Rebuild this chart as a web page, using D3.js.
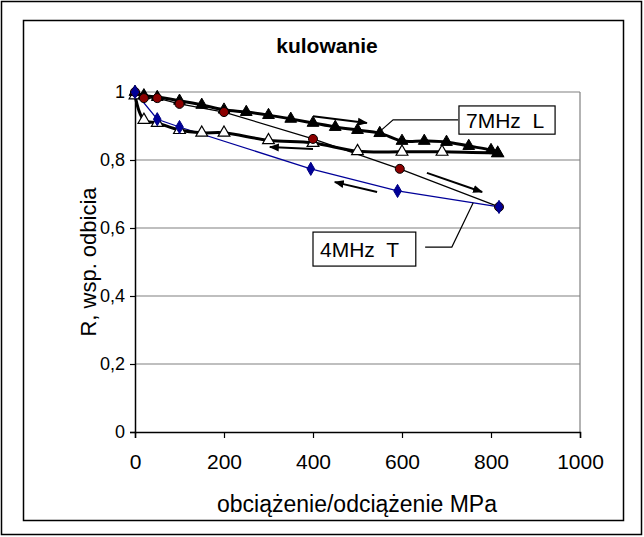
<!DOCTYPE html>
<html><head><meta charset="utf-8">
<script src="https://cdn.jsdelivr.net/npm/d3@7"></script>
<style>body{margin:0;background:#fff}svg{display:block}text{font-family:"Liberation Sans",Arial,sans-serif}</style>
</head><body><svg id="c" width="644" height="537"></svg>
<script>
// ---- data ----
const xTicks = [0,200,400,600,800,1000];
const yTicks = [0,0.2,0.4,0.6,0.8,1];
const yTickLabels = ["0","0,2","0,4","0,6","0,8","1"];

const loadL_x = [0,20,50,100,150,200,250,300,350,400,450,500,550,600,650,700,750,800,815];
const loadL_y = [1.0,0.99,0.985,0.974,0.962,0.948,0.941,0.932,0.921,0.909,0.897,0.888,0.879,0.856,0.856,0.853,0.841,0.829,0.82];
const unloadL_x = [815,690,600,500,400,300,200,150,100,50,20,0];
const unloadL_y = [0.82,0.824,0.824,0.826,0.85,0.858,0.88,0.88,0.888,0.909,0.918,0.99];
const loadT_x = [0,20,50,100,200,400,595,818];
const loadT_y = [1.0,0.982,0.982,0.965,0.941,0.862,0.774,0.662];
const unloadT_x = [818,590,395,100,50,0];
const unloadT_y = [0.662,0.709,0.774,0.897,0.92,1.0];

const titleText = "kulowanie";
const xTitle = "obciążenie/odciążenie MPa";
const yTitle = "R, wsp. odbicia";
const labelL = "7MHz  L";
const labelT = "4MHz  T";

// ---- layout ----
const svg = d3.select("#c");
const X0 = 135, X1 = 580, Y0 = 432, Y1 = 92;
const x = d3.scaleLinear().domain([0,1000]).range([X0,X1]);
const y = d3.scaleLinear().domain([0,1]).range([Y0,Y1]);
const zip = (a,b)=>a.map((v,i)=>[v,b[i]]);

svg.append("rect").attr("x",1.5).attr("y",1.5).attr("width",640).attr("height",533)
  .attr("fill","#fff").attr("stroke","#000").attr("stroke-width",1.5);
svg.append("rect").attr("x",23.5).attr("y",20.5).attr("width",600).attr("height",500)
  .attr("fill","#fff").attr("stroke","#000").attr("stroke-width",1.5);

// grid
svg.append("g").selectAll("line").data(yTicks.filter(d=>d>0)).join("line")
  .attr("x1",X0).attr("x2",X1).attr("y1",d=>y(d)).attr("y2",d=>y(d))
  .attr("stroke","#808080").attr("stroke-width",1.2);
svg.append("line").attr("x1",X1).attr("x2",X1).attr("y1",Y1).attr("y2",Y0)
  .attr("stroke","#808080").attr("stroke-width",1.2);

// axes
const gx = svg.append("g").attr("transform",`translate(0,${Y0})`)
  .call(d3.axisBottom(x).tickValues(xTicks).tickSize(6).tickPadding(16).tickFormat(d3.format("d")));
const gy = svg.append("g").attr("transform",`translate(${X0},0)`)
  .call(d3.axisLeft(y).tickValues(yTicks).tickSize(5).tickPadding(5).tickFormat((d,i)=>yTickLabels[i]));
[gx,gy].forEach(g=>{
  g.select(".domain").attr("stroke","#000").attr("stroke-width",1.5);
  g.selectAll(".tick line").attr("stroke","#000").attr("stroke-width",1.2);
  g.selectAll(".tick text").attr("fill","#000").attr("font-family","Liberation Sans, Arial, sans-serif");
});
gx.selectAll(".tick text").attr("font-size",21);
gy.selectAll(".tick text").attr("font-size",18);

// titles
svg.append("text").attr("x",327).attr("y",53).attr("text-anchor","middle")
  .attr("font-size",21).attr("font-weight","bold").text(titleText);
svg.append("text").attr("x",357).attr("y",512).attr("text-anchor","middle")
  .attr("font-size",23).text(xTitle);
svg.append("text").attr("transform",`translate(96,${(Y0+Y1)/2}) rotate(-90)`).attr("text-anchor","middle")
  .attr("font-size",22).text(yTitle);

// lines
const smooth = d3.line().x(d=>x(d[0])).y(d=>y(d[1])).curve(d3.curveCatmullRom.alpha(0.5));
const straight = d3.line().x(d=>x(d[0])).y(d=>y(d[1]));
const L1 = zip(loadL_x,loadL_y), L2 = zip(unloadL_x,unloadL_y);
const T1 = zip(loadT_x,loadT_y), T2 = zip(unloadT_x,unloadT_y);

svg.append("path").attr("d",straight(T1)).attr("fill","none").attr("stroke","#000").attr("stroke-width",1.2);
svg.append("path").attr("d",straight(T2)).attr("fill","none").attr("stroke","#000099").attr("stroke-width",1.2);
svg.append("path").attr("d",smooth(L2)).attr("fill","none").attr("stroke","#000").attr("stroke-width",3);
svg.append("path").attr("d",smooth(L1)).attr("fill","none").attr("stroke","#000").attr("stroke-width",3);

// markers
const tri = d3.symbol().type(d3.symbolTriangle).size(60);
svg.append("g").selectAll("path").data(L2).join("path")
  .attr("transform",d=>`translate(${x(d[0])},${y(d[1])})`).attr("d",tri())
  .attr("fill","#fff").attr("stroke","#000").attr("stroke-width",1.2);
svg.append("g").selectAll("path").data(L1).join("path")
  .attr("transform",d=>`translate(${x(d[0])},${y(d[1])})`).attr("d",tri())
  .attr("fill","#000").attr("stroke","#000").attr("stroke-width",1);
svg.append("g").selectAll("circle").data(T1).join("circle")
  .attr("cx",d=>x(d[0])).attr("cy",d=>y(d[1])).attr("r",4.5)
  .attr("fill","#8b0000").attr("stroke","#000").attr("stroke-width",1);
const dia = d3.symbol().type(d3.symbolDiamond).size(50);
svg.append("g").selectAll("path").data(T2).join("path")
  .attr("transform",d=>`translate(${x(d[0])},${y(d[1])})`).attr("d",dia())
  .attr("fill","#000099").attr("stroke","#000080").attr("stroke-width",1);

// arrows (data coordinates)
const arrows = [
  [[400,0.929],[521,0.909]],
  [[400,0.832],[303,0.838]],
  [[656,0.762],[780,0.706]],
  [[544,0.706],[449,0.735]]
];
svg.append("defs").append("marker").attr("id","ah").attr("viewBox","0 0 10 10")
  .attr("refX",9).attr("refY",5).attr("markerWidth",5).attr("markerHeight",5).attr("orient","auto")
  .append("path").attr("d","M0,1 L10,5 L0,9 Z").attr("fill","#000");
svg.append("g").selectAll("line").data(arrows).join("line")
  .attr("x1",d=>x(d[0][0])).attr("y1",d=>y(d[0][1])).attr("x2",d=>x(d[1][0])).attr("y2",d=>y(d[1][1]))
  .attr("stroke","#000").attr("stroke-width",2).attr("marker-end","url(#ah)");

// callouts
const callouts = [
  {text:labelL, box:[728,944,0.959,0.876], leader:[[726,0.918],[580,0.918],[551,0.885]]},
  {text:labelT, box:[400,631,0.588,0.488], leader:[[652,0.544],[712,0.544],[760,0.674]]}
];
callouts.forEach(c=>{
  svg.append("path").attr("d",straight(c.leader)).attr("fill","none").attr("stroke","#000").attr("stroke-width",1.2);
  const bx=x(c.box[0]), bw=x(c.box[1])-bx, by=y(c.box[2]), bh=y(c.box[3])-by;
  svg.append("rect").attr("x",bx).attr("y",by).attr("width",bw).attr("height",bh)
    .attr("fill","#fff").attr("stroke","#000").attr("stroke-width",1.2);
  svg.append("text").attr("x",bx+7).attr("y",by+bh/2+8).attr("font-size",21)
    .attr("xml:space","preserve").style("white-space","pre").text(c.text);
});
</script></body></html>
